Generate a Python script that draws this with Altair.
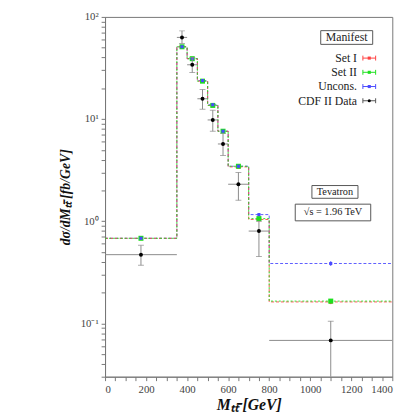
import altair as alt
import pandas as pd

# ---------------- data ----------------
edges = [0, 350, 400, 450, 500, 550, 600, 700, 800, 1400]
centers = [175, 375, 425, 475, 525, 575, 650, 750, 1100]

set1 = [0.68, 51, 39, 23.5, 13.6, 7.6, 3.4, 1.04, 0.162]
set1_err = [0.015, 1.0, 0.8, 0.5, 0.3, 0.15, 0.07, 0.03, 0.008]
set2 = [0.68, 51, 39, 23.5, 13.6, 7.6, 3.45, 1.06, 0.165]
set2_err = [0.015, 1.0, 0.8, 0.5, 0.3, 0.15, 0.07, 0.03, 0.008]
uncons = [0.68, 51, 39, 23.8, 13.8, 7.6, 3.45, 1.16, 0.385]
uncons_err = [0.012, 0.9, 0.7, 0.4, 0.25, 0.12, 0.06, 0.025, 0.02]

cdf = [0.47, 63, 34, 15.8, 9.8, 5.7, 2.3, 0.80, 0.068]
cdf_hi = [0.58, 73, 40, 19.5, 12.2, 7.2, 3.0, 1.0, 0.105]
cdf_lo = [0.37, 55, 28.5, 12.5, 7.6, 4.4, 1.6, 0.45, 0.028]

series_names = ["Set I", "Set II", "Uncons.", "CDF II Data"]
series_colors = ["#ff4040", "#1ee01e", "#4a4aff", "#000000"]

x_tick_values = list(range(0, 1401, 50))
mantissas = [1, 2, 3, 4, 5, 6, 7, 8, 9]
decades = [0.01, 0.1, 1, 10]
y_tick_values = [v for v in (round(m * d, 6) for d in decades for m in mantissas) if v >= 0.03] + [100]

FONT = "Liberation Serif"

# ---------------- frames ----------------
theory_rows = []
step_rows = []
for name, vals, errs in [("Set I", set1, set1_err), ("Set II", set2, set2_err), ("Uncons.", uncons, uncons_err)]:
    for c, v, e in zip(centers, vals, errs):
        theory_rows.append({"series": name, "x": c, "y": v, "lo": v - e, "hi": v + e})
    for i, v in enumerate(vals):
        step_rows.append({"series": name, "x": edges[i], "y": v, "order": i})
    step_rows.append({"series": name, "x": edges[-1], "y": vals[-1], "order": len(vals)})
theory = pd.DataFrame(theory_rows)
steps = pd.DataFrame(step_rows)

data = pd.DataFrame({
    "x": centers, "y": cdf, "lo": cdf_lo, "hi": cdf_hi,
    "x0": edges[:-1], "x1": edges[1:],
})

xscale = alt.Scale(domain=[0, 1400], nice=False, zero=False)
yscale = alt.Scale(type="log", domain=[0.03, 100], nice=False)
xaxis = alt.Axis(values=x_tick_values,
                 labelExpr="datum.value % 200 == 0 ? datum.value : ''",
                 title="Mₜₜ̄ [GeV]", titleFontSize=16, titleFontWeight="bold",
                 titleFontStyle="italic", titlePadding=2, labelPadding=3,
                 grid=False, tickSize=4, labelFontSize=11)
yaxis = alt.Axis(values=y_tick_values,
                 labelExpr="datum.value == 100 ? '10²' : datum.value == 10 ? '10¹' : datum.value == 1 ? '10⁰' : datum.value == 0.1 ? '10⁻¹' : ''",
                 title="dσ/dMₜₜ̄ [fb/GeV]", titleFontSize=14, titleFontWeight="bold",
                 titleFontStyle="italic", titlePadding=8, labelPadding=3,
                 grid=False, tickSize=4, labelFontSize=11)


def X(field):
    return alt.X(field, type="quantitative", scale=xscale, axis=xaxis)


def Y(field):
    return alt.Y(field, type="quantitative", scale=yscale, axis=yaxis)


layers = []

dashes = {"Set I": [3, 2], "Set II": [2, 2], "Uncons.": [3, 2]}
colors = dict(zip(series_names, series_colors))

# step histograms
for name in ["Uncons.", "Set I", "Set II"]:
    layers.append(
        alt.Chart(steps[steps.series == name]).mark_line(
            interpolate="step-after", color=colors[name], strokeWidth=1,
            strokeDash=dashes[name], opacity=0.9
        ).encode(x=X("x"), y=Y("y"), order="order:Q")
    )

# theory markers + error bars
marker_size = {"Set I": 14, "Set II": 26, "Uncons.": 10}
for name in ["Set I", "Set II", "Uncons."]:
    t = theory[theory.series == name]
    layers.append(
        alt.Chart(t).mark_rule(color=colors[name], strokeWidth=1).encode(
            x=X("x"), y=Y("lo"), y2="hi")
    )
    layers.append(
        alt.Chart(t).mark_point(shape="square", filled=True, opacity=1,
                                color=colors[name], size=marker_size[name]).encode(
            x=X("x"), y=Y("y"))
    )

# CDF data
err_color = "#8a8a8a"
layers.append(alt.Chart(data).mark_rule(color=err_color, strokeWidth=1, clip=True).encode(
    x=X("x0"), x2="x1", y=Y("y")))
layers.append(alt.Chart(data).mark_rule(color=err_color, strokeWidth=1, clip=True).encode(
    x=X("x"), y=Y("lo"), y2="hi"))
layers.append(alt.Chart(data).mark_tick(color=err_color, orient="horizontal", size=6,
                                        thickness=1, clip=True).encode(x=X("x"), y=Y("hi")))
layers.append(alt.Chart(data).mark_tick(color=err_color, orient="horizontal", size=6,
                                        thickness=1, clip=True).encode(x=X("x"), y=Y("lo")))
layers.append(alt.Chart(data).mark_point(shape="circle", filled=True, opacity=1,
                                         color="black", size=16).encode(x=X("x"), y=Y("y")))

# ---------------- annotation boxes / legend ----------------
box_df = pd.DataFrame({
    "label": ["Manifest", "Tevatron", "√s = 1.96 TeV"],
    "x0": [220, 211, 194], "x1": [273, 258, 271],
    "y0": [14, 172, 191], "y1": [28, 185, 208],
    "tx": [246.5, 234.5, 232.5], "ty": [21, 178.5, 199.5],
})
for _, r in box_df.iterrows():
    layers.append(alt.Chart(pd.DataFrame({"a": [0]})).mark_rect(
        fill="white", stroke="#555", strokeWidth=1).encode(
        x=alt.value(r.x0), x2=alt.value(r.x1), y=alt.value(r.y0), y2=alt.value(r.y1)))
    layers.append(alt.Chart(pd.DataFrame({"a": [0]})).mark_text(
        text=r.label, font=FONT, fontSize=12 if r.label == "Manifest" else 10.5,
        align="center", baseline="middle", color="#222").encode(
        x=alt.value(r.tx), y=alt.value(r.ty)))

leg_y = [42, 56.5, 71, 85.5]
for name, ly in zip(series_names, leg_y):
    c = colors[name] if name != "CDF II Data" else "#555"
    one = pd.DataFrame({"a": [0]})
    layers.append(alt.Chart(one).mark_text(
        text=name, font=FONT, fontSize=12, align="right", baseline="middle", color="#222").encode(
        x=alt.value(257), y=alt.value(ly)))
    layers.append(alt.Chart(one).mark_rule(color=c, strokeWidth=1).encode(
        x=alt.value(263), x2=alt.value(276), y=alt.value(ly)))
    for cx in [263, 276]:
        layers.append(alt.Chart(one).mark_rule(color=c, strokeWidth=1).encode(
            x=alt.value(cx), y=alt.value(ly - 2.5), y2=alt.value(ly + 2.5)))
    layers.append(alt.Chart(one).mark_point(
        shape="square" if name != "CDF II Data" else "circle", filled=True, opacity=1,
        color=colors[name], size=10).encode(x=alt.value(269.5), y=alt.value(ly)))

chart = alt.layer(*layers).properties(
    width=293, height=367,
    autosize=alt.AutoSizeParams(type="none"),
    padding={"left": 99, "top": 5, "right": 15, "bottom": 37},
).configure_view(
    stroke="#777", strokeWidth=1
).configure_axis(
    labelFont=FONT, titleFont=FONT, labelColor="#444", titleColor="#111",
    domainColor="#777", tickColor="#777"
)

chart.save("out.html", embed_options={"renderer": "svg", "actions": False})
